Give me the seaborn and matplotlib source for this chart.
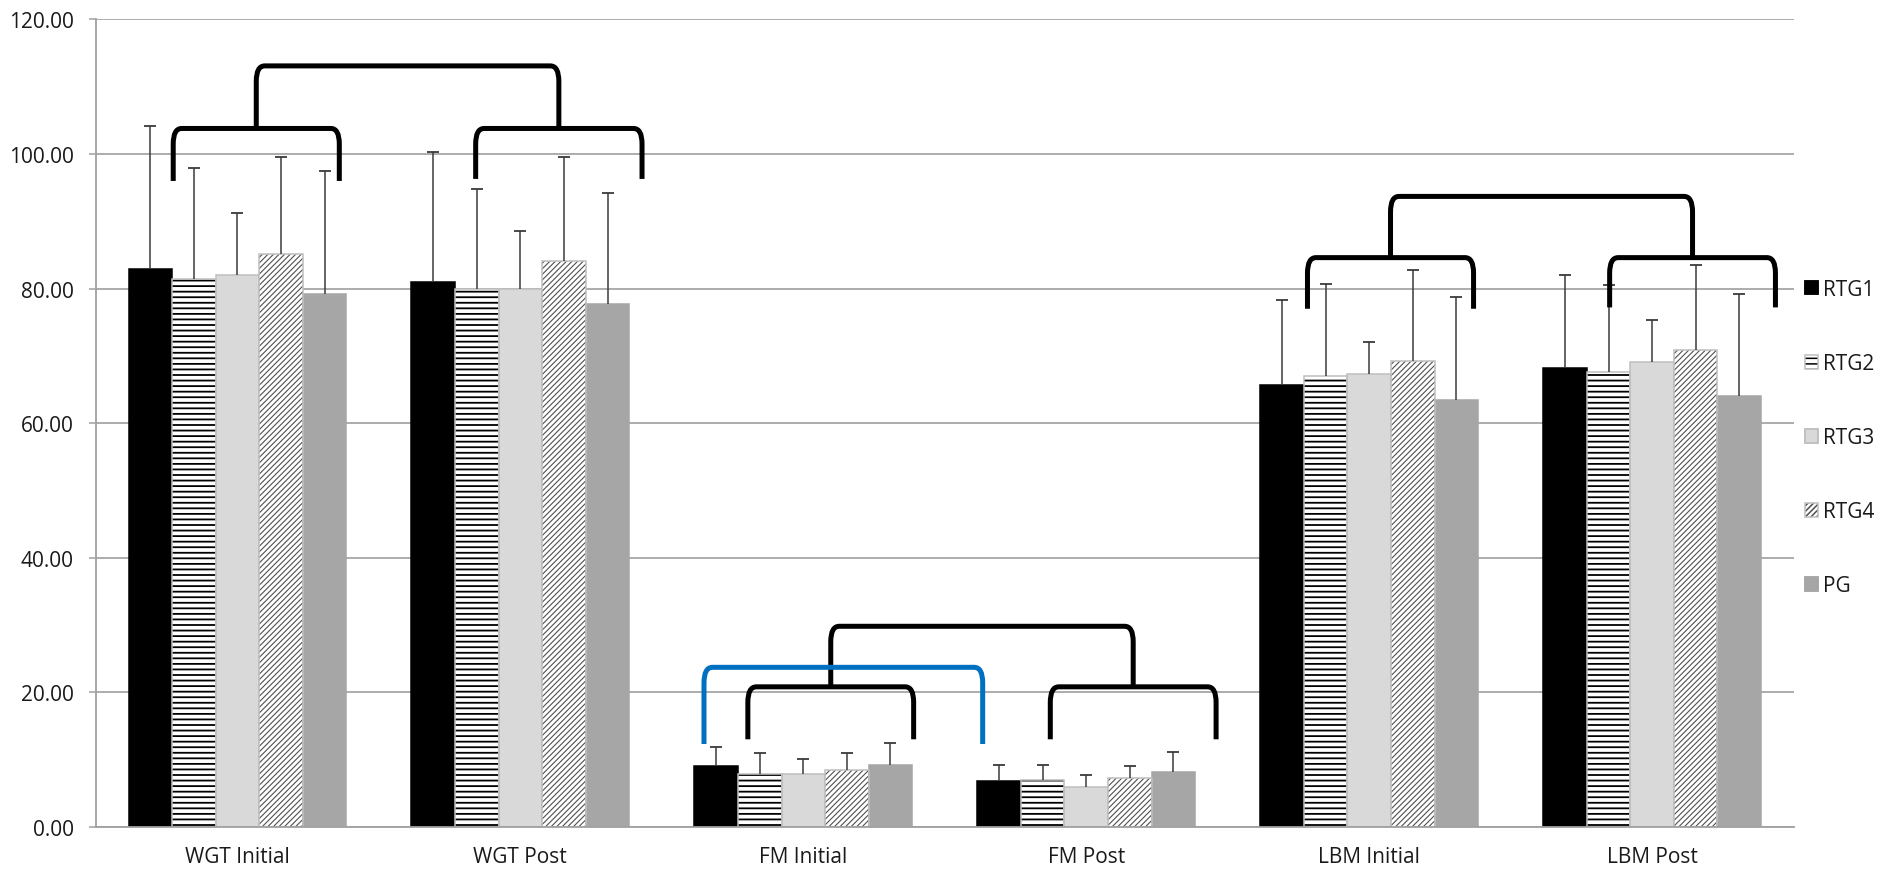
import numpy as np
import pandas as pd
import seaborn as sns
import matplotlib.pyplot as plt
from matplotlib.path import Path
from matplotlib.patches import PathPatch, Rectangle

# values (means and upper SD)
categories = ['WGT Initial', 'WGT Post', 'FM Initial', 'FM Post', 'LBM Initial', 'LBM Post']
groups = ['RTG1', 'RTG2', 'RTG3', 'RTG4', 'PG']

rtg1 = [82.95, 81.0, 9.07, 6.84, 65.6, 68.2]
rtg2 = [81.4, 79.9, 7.83, 6.99, 67.0, 67.6]
rtg3 = [82.06, 80.0, 7.83, 5.9, 67.3, 69.1]
rtg4 = [85.1, 84.05, 8.47, 7.2, 69.3, 70.8]
pg = [79.2, 77.7, 9.2, 8.1, 63.5, 64.1]

rtg1_sd = [21.25, 19.3, 2.73, 2.36, 12.7, 13.8]
rtg2_sd = [16.5, 14.9, 3.07, 2.21, 13.7, 12.9]
rtg3_sd = [9.24, 8.5, 2.17, 1.8, 4.75, 6.2]
rtg4_sd = [14.5, 15.55, 2.43, 1.78, 13.4, 12.7]
pg_sd = [18.3, 16.5, 3.2, 3.0, 15.3, 15.1]

# significance brackets: offsets from each category centre, heights in data units
inner_left = [-0.227, -0.158, -0.196, -0.127, -0.218, -0.150]
inner_right = [0.360, 0.430, 0.390, 0.459, 0.369, 0.436]
inner_top = [103.8, 103.8, 20.8, 20.8, 84.6, 84.6]
inner_bottom = [96.0, 96.3, 13.0, 13.0, 77.0, 77.2]
outer_pairs = [(0, 1), (2, 3), (4, 5)]
outer_top = [113.1, 29.8, 93.7]
blue_span = (2, -0.351, 0.634)   # category, left offset, right offset
blue_top, blue_bottom = 23.7, 12.3

means = [rtg1, rtg2, rtg3, rtg4, pg]
sds = [rtg1_sd, rtg2_sd, rtg3_sd, rtg4_sd, pg_sd]
fills = ['#000000', '#ffffff', '#d9d9d9', '#ffffff', '#a6a6a6']
edges = ['#000000', '#bfbfbf', '#bfbfbf', '#bfbfbf', '#a6a6a6']
hatches = [None, '---', None, '//////', None]
hatch_cols = [None, '#000000', None, '#505050', None]
hatch_lws = [None, 1.3, None, 0.8, None]

df = pd.DataFrame({
    'measure': categories * len(groups),
    'group': np.repeat(groups, len(categories)),
    'value': np.concatenate(means),
})

sns.set_style('white')
plt.rcParams['font.family'] = ['Open Sans', 'DejaVu Sans']
plt.rcParams['hatch.linewidth'] = 1.1
text_col = '#1a1a1a'
grey = '#a0a0a0'

fig, ax = plt.subplots(figsize=(18.82, 8.79), dpi=100)
fig.subplots_adjust(left=0.051, right=0.953, bottom=0.0583, top=0.9767)

sns.barplot(data=df, x='measure', y='value', hue='group', order=categories,
            hue_order=groups, palette=fills, saturation=1, width=0.77,
            errorbar=None, legend=False, ax=ax, zorder=2)

handles = []
for k, cont in enumerate(ax.containers):
    for bar in cont:
        bar.set_edgecolor(edges[k])
        bar.set_linewidth(1.1)
        if hatches[k]:
            bar.set_hatch(hatches[k])
            if hasattr(bar, 'set_hatch_linewidth'):
                bar.set_hatch_linewidth(hatch_lws[k])
            if hasattr(bar, 'set_hatchcolor'):
                bar.set_hatchcolor(hatch_cols[k])
            else:
                # old matplotlib: hatch takes edge colour, so draw the outline separately
                bar.set_edgecolor(hatch_cols[k])
                bar.set_linewidth(0)
                ax.add_patch(Rectangle(bar.get_xy(), bar.get_width(), bar.get_height(),
                                       fill=False, edgecolor=edges[k], lw=1.1, zorder=2))
    # legend key: bar style plus a grey outline on top
    outline = Rectangle((0, 0), 1, 1, fill=False, edgecolor=edges[k], lw=1.1)
    handles.append((cont.patches[0], outline))
    # upper-only error bars
    xs = [b.get_x() + b.get_width() / 2 for b in cont]
    tops = np.array(means[k]) + np.array(sds[k])
    ax.vlines(xs, means[k], tops, color='#3a3a3a', lw=1.1, zorder=3)
    ax.plot(xs, tops, ls='none', marker='_', ms=9, mew=1.3, color='#3a3a3a', zorder=3)


def bracket(x0, x1, ybot, ytop, color):
    rx, ry = 0.03, 2.3
    verts = [(x0, ybot), (x0, ytop - ry), (x0, ytop), (x0 + rx, ytop),
             (x1 - rx, ytop), (x1, ytop), (x1, ytop - ry), (x1, ybot)]
    codes = [Path.MOVETO, Path.LINETO, Path.CURVE3, Path.CURVE3,
             Path.LINETO, Path.CURVE3, Path.CURVE3, Path.LINETO]
    ax.add_patch(PathPatch(Path(verts, codes), fill=False, edgecolor=color, lw=3.6,
                           capstyle='butt', joinstyle='round', zorder=5))


for i in range(len(categories)):
    bracket(i + inner_left[i], i + inner_right[i], inner_bottom[i], inner_top[i], 'black')
for (a, b), yt in zip(outer_pairs, outer_top):
    ca = a + (inner_left[a] + inner_right[a]) / 2
    cb = b + (inner_left[b] + inner_right[b]) / 2
    bracket(ca, cb, inner_top[a], yt, 'black')
bc, bl, br = blue_span
bracket(bc + bl, bc + br, blue_bottom, blue_top, '#0070c0')

ax.set_xlim(-0.5, len(categories) - 0.5)
ax.set_ylim(0, 120)
ax.set_yticks(range(0, 121, 20))
ax.set_yticklabels([f'{v:.2f}' for v in range(0, 121, 20)])
ax.set_xticks(range(len(categories)))
ax.set_xticklabels(categories)
ax.set_xticks(np.arange(-0.5, len(categories), 1), minor=True)
ax.set_xlabel('')
ax.set_ylabel('')

ax.tick_params(axis='x', which='major', length=0, pad=14, labelsize=15, labelcolor=text_col)
ax.tick_params(axis='x', which='minor', length=5, width=1.1, color=grey)
ax.tick_params(axis='y', length=5, width=1.1, color=grey, pad=11, labelsize=15,
               labelcolor=text_col, left=True)

ax.set_axisbelow(True)
ax.yaxis.grid(True, color='#a6a6a6', lw=1.3)
for s in ['top', 'right']:
    ax.spines[s].set_visible(False)
for s in ['left', 'bottom']:
    ax.spines[s].set_color(grey)
    ax.spines[s].set_linewidth(1.3)

ax.legend(handles, groups, loc='upper left', bbox_to_anchor=(1805 / 1882, 1 - 280 / 879),
          bbox_transform=fig.transFigure, frameon=False, fontsize=15,
          handlelength=0.62, handleheight=0.62, handletextpad=0.25,
          labelspacing=2.55, borderpad=0, borderaxespad=0, labelcolor=text_col)

plt.savefig('out.png', dpi=100)
